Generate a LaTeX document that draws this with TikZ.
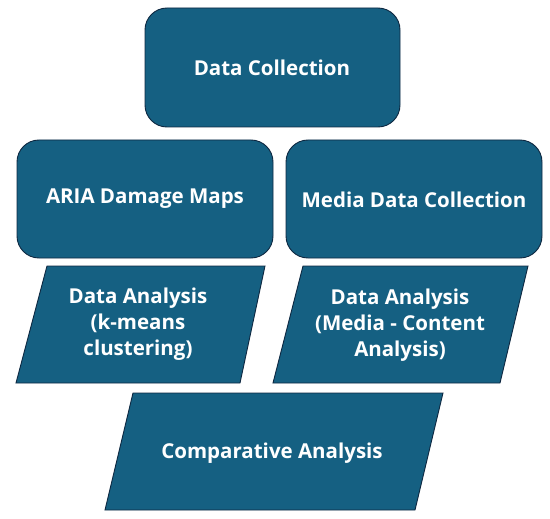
\documentclass[tikz,border=0pt]{standalone}
\usepackage{fontspec}
\setmainfont{Open Sans}
\definecolor{boxfill}{HTML}{156082}
\definecolor{boxline}{HTML}{0E2841}
\begin{document}
\begin{tikzpicture}[x=1pt,y=-1pt,
  shapebox/.style={fill=boxfill,draw=boxline,line width=0.9pt},
  rbox/.style={shapebox,rounded corners=22pt},
  lbl/.style={text=white,font=\bfseries\fontsize{20.5}{26}\selectfont,align=center,inner sep=0pt}]
\useasboundingbox (0,0) rectangle (550,519);
% rounded boxes
\draw[rbox] (145,8) rectangle (400,127);
\draw[rbox] (17,140) rectangle (273,258);
\draw[rbox] (286,140) rectangle (542,258);
% parallelograms
\draw[shapebox] (47,266) -- (265,266) -- (240,383) -- (16,383) -- cycle;
\draw[shapebox] (303,266) -- (528,266) -- (500,383) -- (273,383) -- cycle;
\draw[shapebox] (133,393) -- (443,393) -- (415,510) -- (105,510) -- cycle;
% labels
\node[lbl] (dc) at (272,68) {Data Collection};
\node[lbl] (aria) at (145,199) {ARIA Damage Maps};
\node[lbl] (media) at (414,200) {Media Data Collection};
\node[lbl] (da1) at (138,324) {Data Analysis\\(k-means\\clustering)};
\node[lbl] (da2) at (400,325) {Data Analysis\\(Media - Content\\Analysis)};
\node[lbl] (comp) at (272,453) {Comparative Analysis};
\end{tikzpicture}
\end{document}
